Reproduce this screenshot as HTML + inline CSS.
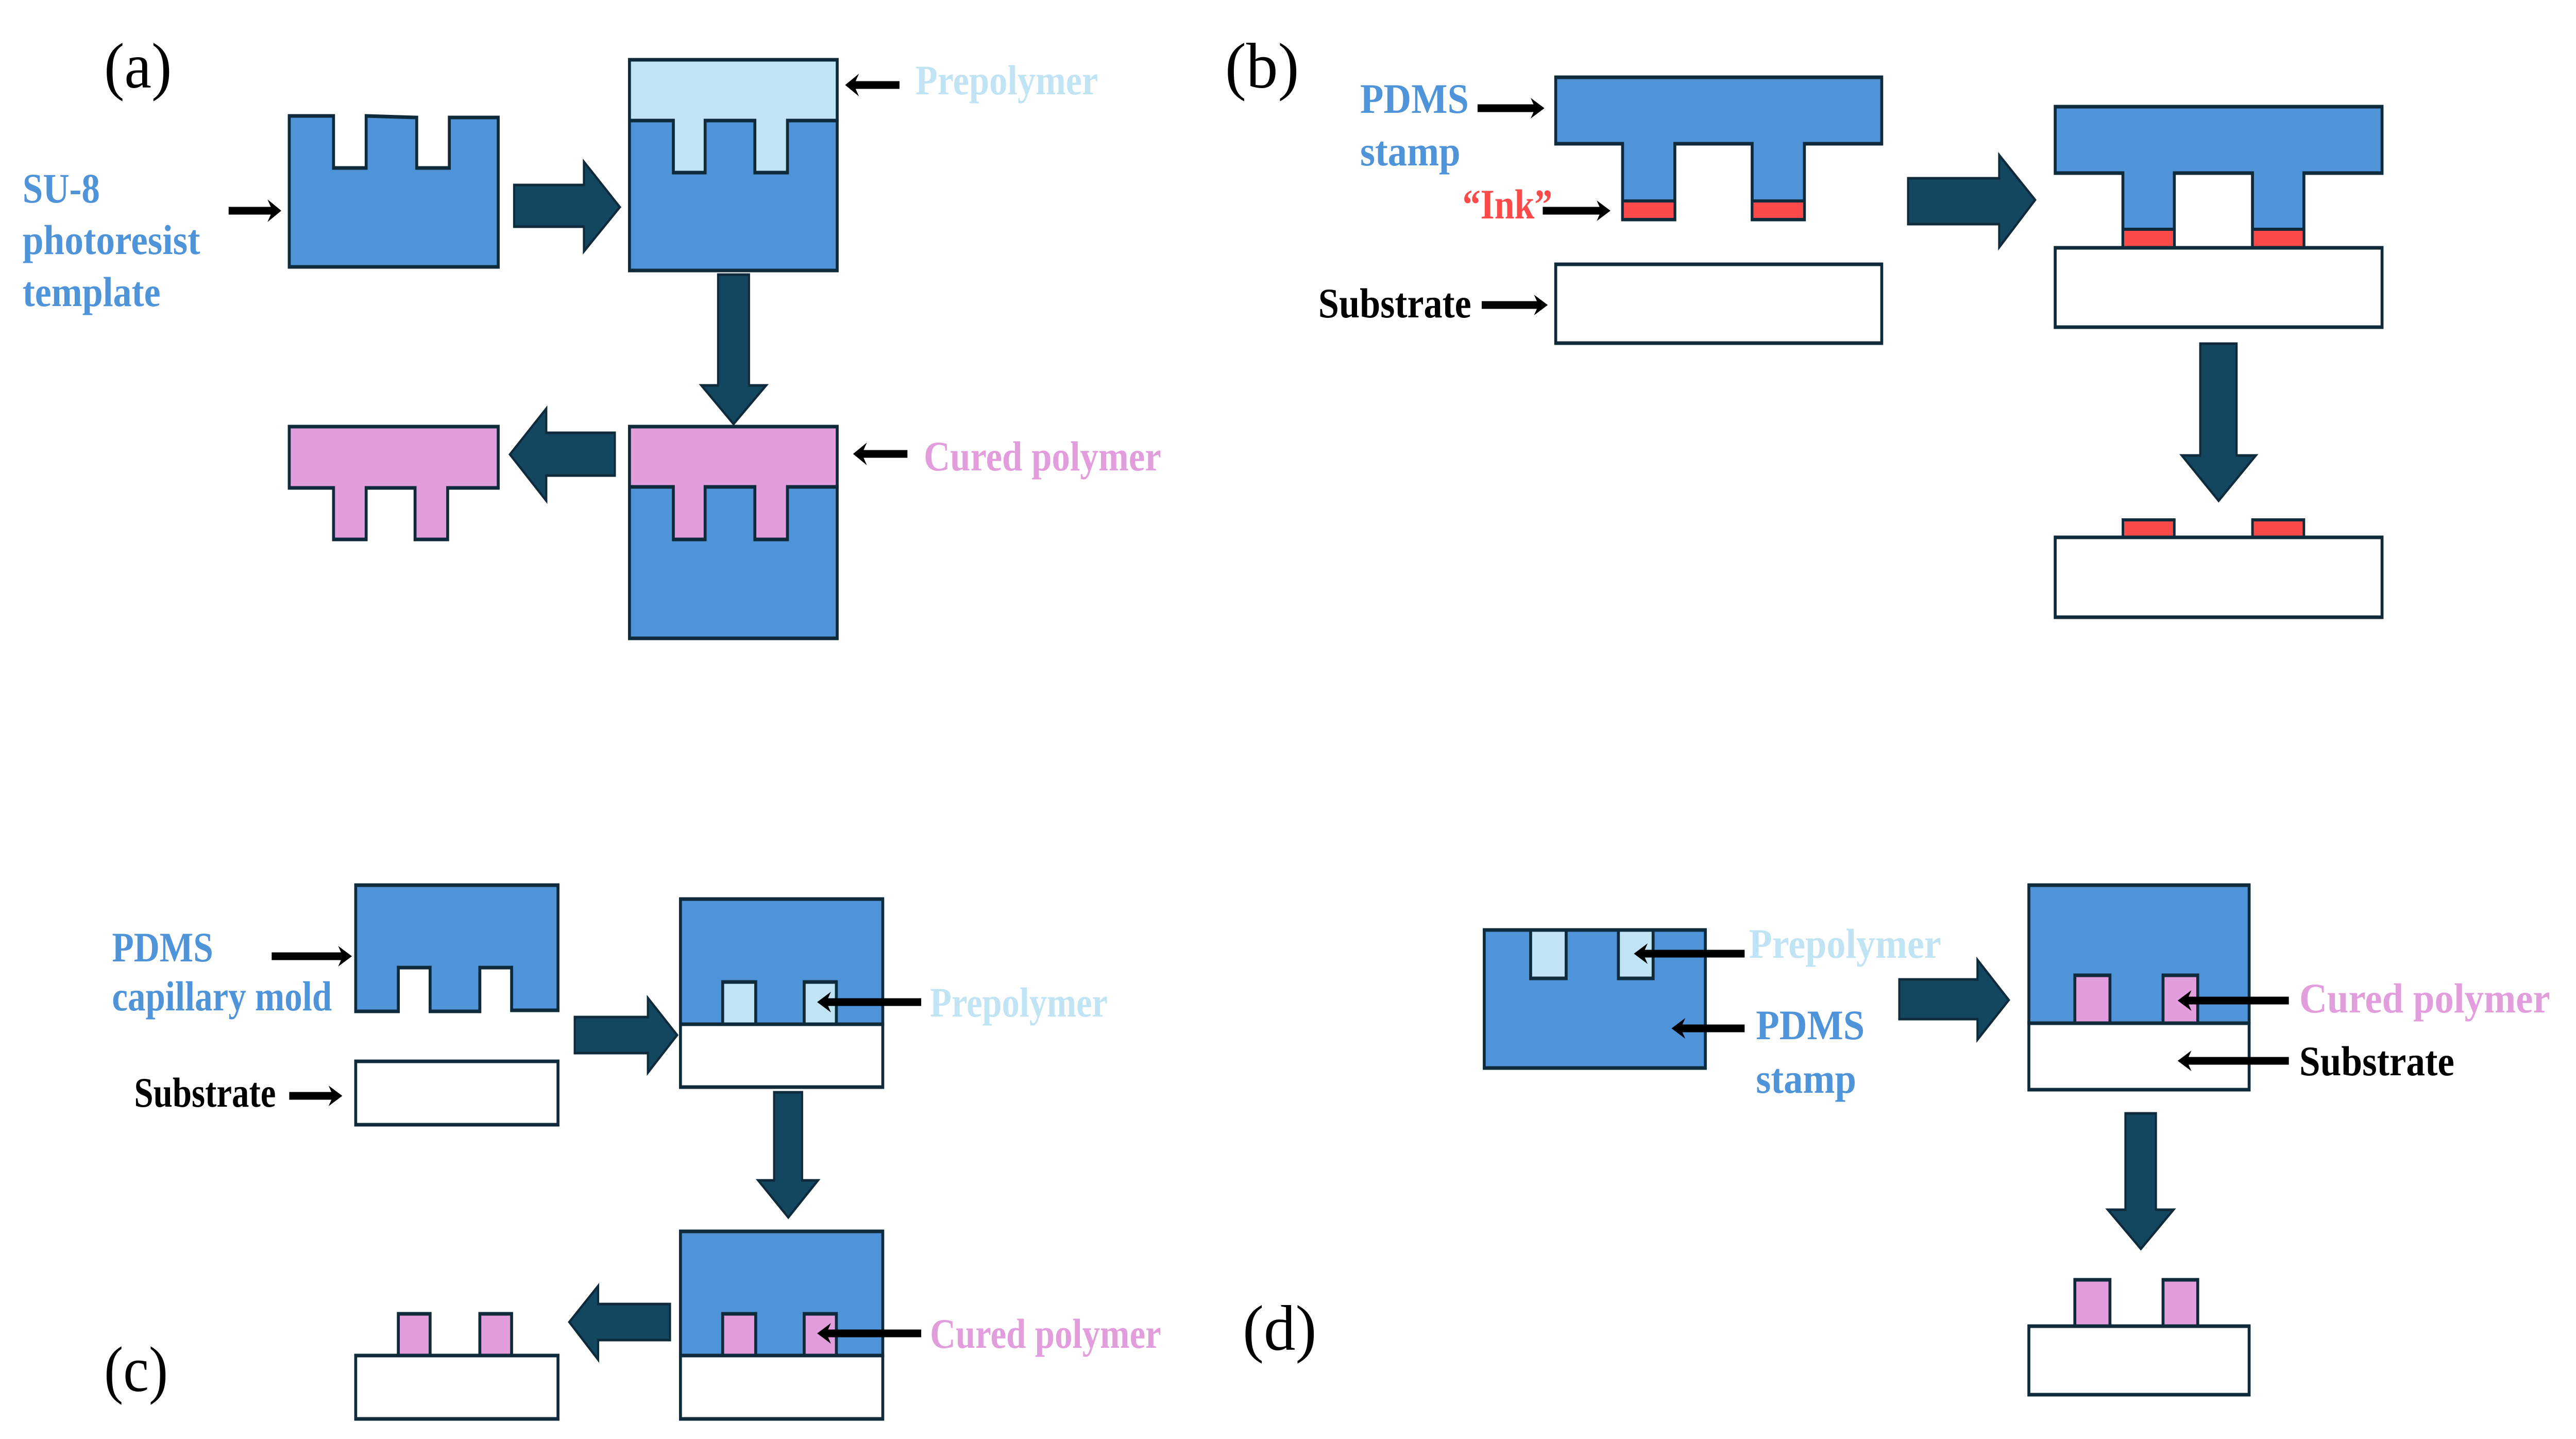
<!DOCTYPE html>
<html><head><meta charset="utf-8">
<style>html,body{margin:0;padding:0;background:#fff;overflow:hidden;width:100%;height:100%}svg{display:block;position:absolute;left:0;top:0}</style>
</head><body>
<svg width="100%" height="100%" style="width:100vw;height:100vh" viewBox="0 0 6163 2793" preserveAspectRatio="none" xmlns="http://www.w3.org/2000/svg" font-family="'Liberation Serif', serif">
<defs>
<style>
.bl{fill:#4f94d8;stroke:#0f2a3a;stroke-width:7}
.pk{fill:#e29edc;stroke:#0f2a3a;stroke-width:7}
.lb{fill:#c0e4f4;stroke:#0f2a3a;stroke-width:7}
.rd{fill:#fa4a4a;stroke:#0f2a3a;stroke-width:6}
.wh{fill:#fff;stroke:#0f2a3a;stroke-width:7}
.ar{fill:#12475f;stroke:#0f2a3a;stroke-width:5}
.lbl{font-weight:bold;font-size:82px}
.pl{font-size:125px}
</style>
</defs>

<!-- ===== (a) ===== -->
<text x="249" y="170" class="pl" textLength="162" lengthAdjust="spacingAndGlyphs">(a)</text>
<text x="54" y="393" class="lbl" fill="#4f94d8" textLength="185" lengthAdjust="spacingAndGlyphs">SU-8</text>
<text x="54" y="493" class="lbl" fill="#4f94d8" textLength="425" lengthAdjust="spacingAndGlyphs">photoresist</text>
<text x="54" y="594" class="lbl" fill="#4f94d8" textLength="330" lengthAdjust="spacingAndGlyphs">template</text>
<line x1="547" y1="409" x2="655" y2="409" stroke="#000" stroke-width="15"/>
<polygon points="673,409 640,387 652,409 640,431" fill="#000"/>
<polygon class="bl" points="692,225 798,225 798,326 876,326 876,225 997,228 997,326 1075,326 1075,228 1192,228 1192,518 692,518"/>
<polygon class="ar" points="1230,359 1397,359 1397,314 1483,402 1397,488 1397,440 1230,440"/>
<rect class="bl" x="1506" y="234" width="497" height="291"/>
<polygon class="lb" points="1506,116 2003,116 2003,234 1884,234 1884,335 1806,335 1806,234 1687,234 1687,335 1611,335 1611,234 1506,234"/>
<line x1="2040" y1="165" x2="2152" y2="165" stroke="#000" stroke-width="15"/>
<polygon points="2022,165 2055,143 2043,165 2055,187" fill="#000"/>
<text x="2190" y="183" class="lbl" fill="#c0e4f4" textLength="437" lengthAdjust="spacingAndGlyphs">Prepolymer</text>
<polygon class="ar" points="1718,533 1792,533 1792,748 1833,748 1755,823 1678,748 1718,748"/>
<rect class="bl" x="1506" y="945" width="497" height="294"/>
<polygon class="pk" points="1506,828 2003,828 2003,945 1884,945 1884,1047 1806,1047 1806,945 1687,945 1687,1047 1611,1047 1611,945 1506,945"/>
<line x1="2059" y1="881" x2="2171" y2="881" stroke="#000" stroke-width="15"/>
<polygon points="2041,881 2074,859 2062,881 2074,903" fill="#000"/>
<text x="2210" y="913" class="lbl" fill="#e29edc" textLength="568" lengthAdjust="spacingAndGlyphs">Cured polymer</text>
<polygon class="ar" points="1471,840 1307,840 1307,793 1220,882 1307,972 1307,923 1471,923"/>
<polygon class="pk" points="692,828 1192,828 1192,947 1071,947 1071,1047 993,1047 993,947 876,947 876,1047 798,1047 798,947 692,947"/>

<!-- ===== (b) ===== -->
<text x="2931" y="170" class="pl" textLength="177" lengthAdjust="spacingAndGlyphs">(b)</text>
<text x="3254" y="219" class="lbl" fill="#4f94d8" textLength="260" lengthAdjust="spacingAndGlyphs">PDMS</text>
<text x="3254" y="321" class="lbl" fill="#4f94d8" textLength="240" lengthAdjust="spacingAndGlyphs">stamp</text>
<line x1="3535" y1="210" x2="3678" y2="210" stroke="#000" stroke-width="15"/>
<polygon points="3695,210 3662,190 3673,210 3662,230" fill="#000"/>
<text x="3499" y="424" class="lbl" fill="#fa4a4a" textLength="215" lengthAdjust="spacingAndGlyphs">“Ink”</text>
<line x1="3691" y1="409" x2="3836" y2="409" stroke="#000" stroke-width="15"/>
<polygon points="3853,409 3820,389 3831,409 3820,429" fill="#000"/>
<polygon class="bl" points="3722,150 4502,150 4502,279 4317,279 4317,426 4192,426 4192,279 4007,279 4007,426 3882,426 3882,279 3722,279"/>
<rect class="rd" x="3882" y="390" width="125" height="36"/>
<rect class="rd" x="4192" y="390" width="125" height="36"/>
<text x="3154" y="616" class="lbl" fill="#000" textLength="366" lengthAdjust="spacingAndGlyphs">Substrate</text>
<line x1="3545" y1="592" x2="3686" y2="592" stroke="#000" stroke-width="15"/>
<polygon points="3703,592 3670,572 3681,592 3670,612" fill="#000"/>
<rect class="wh" x="3722" y="513" width="780" height="153"/>
<polygon class="ar" points="4565,346 4783,346 4783,301 4869,388 4783,480 4783,435 4565,435"/>
<polygon class="bl" points="4917,207 5699,207 5699,336 5512,336 5512,480 5389,480 5389,336 5202,336 5202,480 5079,480 5079,336 4917,336"/>
<rect class="rd" x="5079" y="445" width="123" height="36"/>
<rect class="rd" x="5389" y="445" width="123" height="36"/>
<rect class="wh" x="4917" y="481" width="782" height="154"/>
<polygon class="ar" points="5264,667 5351,667 5351,884 5397,884 5308,972 5220,884 5264,884"/>
<rect class="rd" x="5079" y="1009" width="123" height="34"/>
<rect class="rd" x="5389" y="1009" width="123" height="34"/>
<rect class="wh" x="4917" y="1043" width="782" height="155"/>

<!-- ===== (c) ===== -->
<text x="268" y="1866" class="lbl" fill="#4f94d8" textLength="242" lengthAdjust="spacingAndGlyphs">PDMS</text>
<text x="268" y="1961" class="lbl" fill="#4f94d8" textLength="526" lengthAdjust="spacingAndGlyphs">capillary mold</text>
<line x1="650" y1="1856" x2="825" y2="1856" stroke="#000" stroke-width="15"/>
<polygon points="842,1856 809,1836 820,1856 809,1876" fill="#000"/>
<polygon class="bl" points="851,1718 1335,1718 1335,1961 1224,1961 1224,1878 1148,1878 1148,1963 1029,1963 1029,1878 953,1878 953,1963 851,1963"/>
<text x="321" y="2148" class="lbl" fill="#000" textLength="339" lengthAdjust="spacingAndGlyphs">Substrate</text>
<line x1="692" y1="2127" x2="802" y2="2127" stroke="#000" stroke-width="15"/>
<polygon points="819,2127 786,2107 797,2127 786,2147" fill="#000"/>
<rect class="wh" x="851" y="2060" width="484" height="123"/>
<polygon class="ar" points="1375,1974 1550,1974 1550,1937 1620,2009 1550,2082 1550,2044 1375,2044"/>
<rect class="bl" x="1628" y="1745" width="484" height="243"/>
<rect class="lb" x="1729" y="1906" width="79" height="82"/>
<rect class="lb" x="1924" y="1906" width="77" height="82"/>
<rect class="wh" x="1628" y="1988" width="484" height="122"/>
<line x1="1972" y1="1945" x2="2204" y2="1945" stroke="#000" stroke-width="15"/>
<polygon points="1955,1945 1988,1925 1977,1945 1988,1965" fill="#000"/>
<text x="2225" y="1973" class="lbl" fill="#c0e4f4" textLength="425" lengthAdjust="spacingAndGlyphs">Prepolymer</text>
<polygon class="ar" points="1852,2120 1919,2120 1919,2291 1957,2291 1886,2363 1814,2291 1852,2291"/>
<rect class="bl" x="1628" y="2390" width="484" height="241"/>
<rect class="pk" x="1729" y="2550" width="79" height="81"/>
<rect class="pk" x="1924" y="2550" width="77" height="81"/>
<rect class="wh" x="1628" y="2631" width="484" height="123"/>
<line x1="1972" y1="2588" x2="2204" y2="2588" stroke="#000" stroke-width="15"/>
<polygon points="1955,2588 1988,2568 1977,2588 1988,2608" fill="#000"/>
<text x="2225" y="2616" class="lbl" fill="#e29edc" textLength="553" lengthAdjust="spacingAndGlyphs">Cured polymer</text>
<polygon class="ar" points="1603,2531 1431,2531 1431,2496 1362,2566 1431,2639 1431,2601 1603,2601"/>
<rect class="pk" x="953" y="2550" width="76" height="81"/>
<rect class="pk" x="1148" y="2550" width="76" height="81"/>
<rect class="wh" x="851" y="2631" width="484" height="123"/>
<text x="249" y="2700" class="pl" textLength="153" lengthAdjust="spacingAndGlyphs">(c)</text>

<!-- ===== (d) ===== -->
<rect class="bl" x="3551" y="1805" width="529" height="268"/>
<rect class="lb" x="3662" y="1805" width="85" height="94"/>
<rect class="lb" x="3872" y="1805" width="83" height="94"/>
<line x1="3926" y1="1851" x2="4174" y2="1851" stroke="#000" stroke-width="15"/>
<polygon points="3909,1851 3942,1831 3931,1851 3942,1871" fill="#000"/>
<text x="4184" y="1859" class="lbl" fill="#c0e4f4" textLength="460" lengthAdjust="spacingAndGlyphs">Prepolymer</text>
<line x1="4016" y1="1996" x2="4174" y2="1996" stroke="#000" stroke-width="15"/>
<polygon points="3999,1996 4032,1976 4021,1996 4032,2016" fill="#000"/>
<text x="4201" y="2017" class="lbl" fill="#4f94d8" textLength="260" lengthAdjust="spacingAndGlyphs">PDMS</text>
<text x="4201" y="2121" class="lbl" fill="#4f94d8" textLength="240" lengthAdjust="spacingAndGlyphs">stamp</text>
<polygon class="ar" points="4544,1901 4731,1901 4731,1863 4806,1941 4731,2018 4731,1978 4544,1978"/>
<rect class="bl" x="4854" y="1718" width="527" height="268"/>
<rect class="pk" x="4964" y="1893" width="84" height="93"/>
<rect class="pk" x="5175" y="1893" width="83" height="93"/>
<rect class="wh" x="4854" y="1986" width="527" height="129"/>
<line x1="5227" y1="1942" x2="5476" y2="1942" stroke="#000" stroke-width="15"/>
<polygon points="5210,1942 5243,1922 5232,1942 5243,1962" fill="#000"/>
<text x="5501" y="1965" class="lbl" fill="#e29edc" textLength="600" lengthAdjust="spacingAndGlyphs">Cured polymer</text>
<line x1="5227" y1="2059" x2="5476" y2="2059" stroke="#000" stroke-width="15"/>
<polygon points="5210,2059 5243,2039 5232,2059 5243,2079" fill="#000"/>
<text x="5501" y="2087" class="lbl" fill="#000" textLength="371" lengthAdjust="spacingAndGlyphs">Substrate</text>
<polygon class="ar" points="5085,2161 5158,2161 5158,2348 5200,2348 5122,2424 5043,2348 5085,2348"/>
<rect class="pk" x="4964" y="2484" width="84" height="90"/>
<rect class="pk" x="5175" y="2484" width="83" height="90"/>
<rect class="wh" x="4854" y="2574" width="527" height="133"/>
<text x="2973" y="2620" class="pl" textLength="177" lengthAdjust="spacingAndGlyphs">(d)</text>
</svg>
</body></html>
